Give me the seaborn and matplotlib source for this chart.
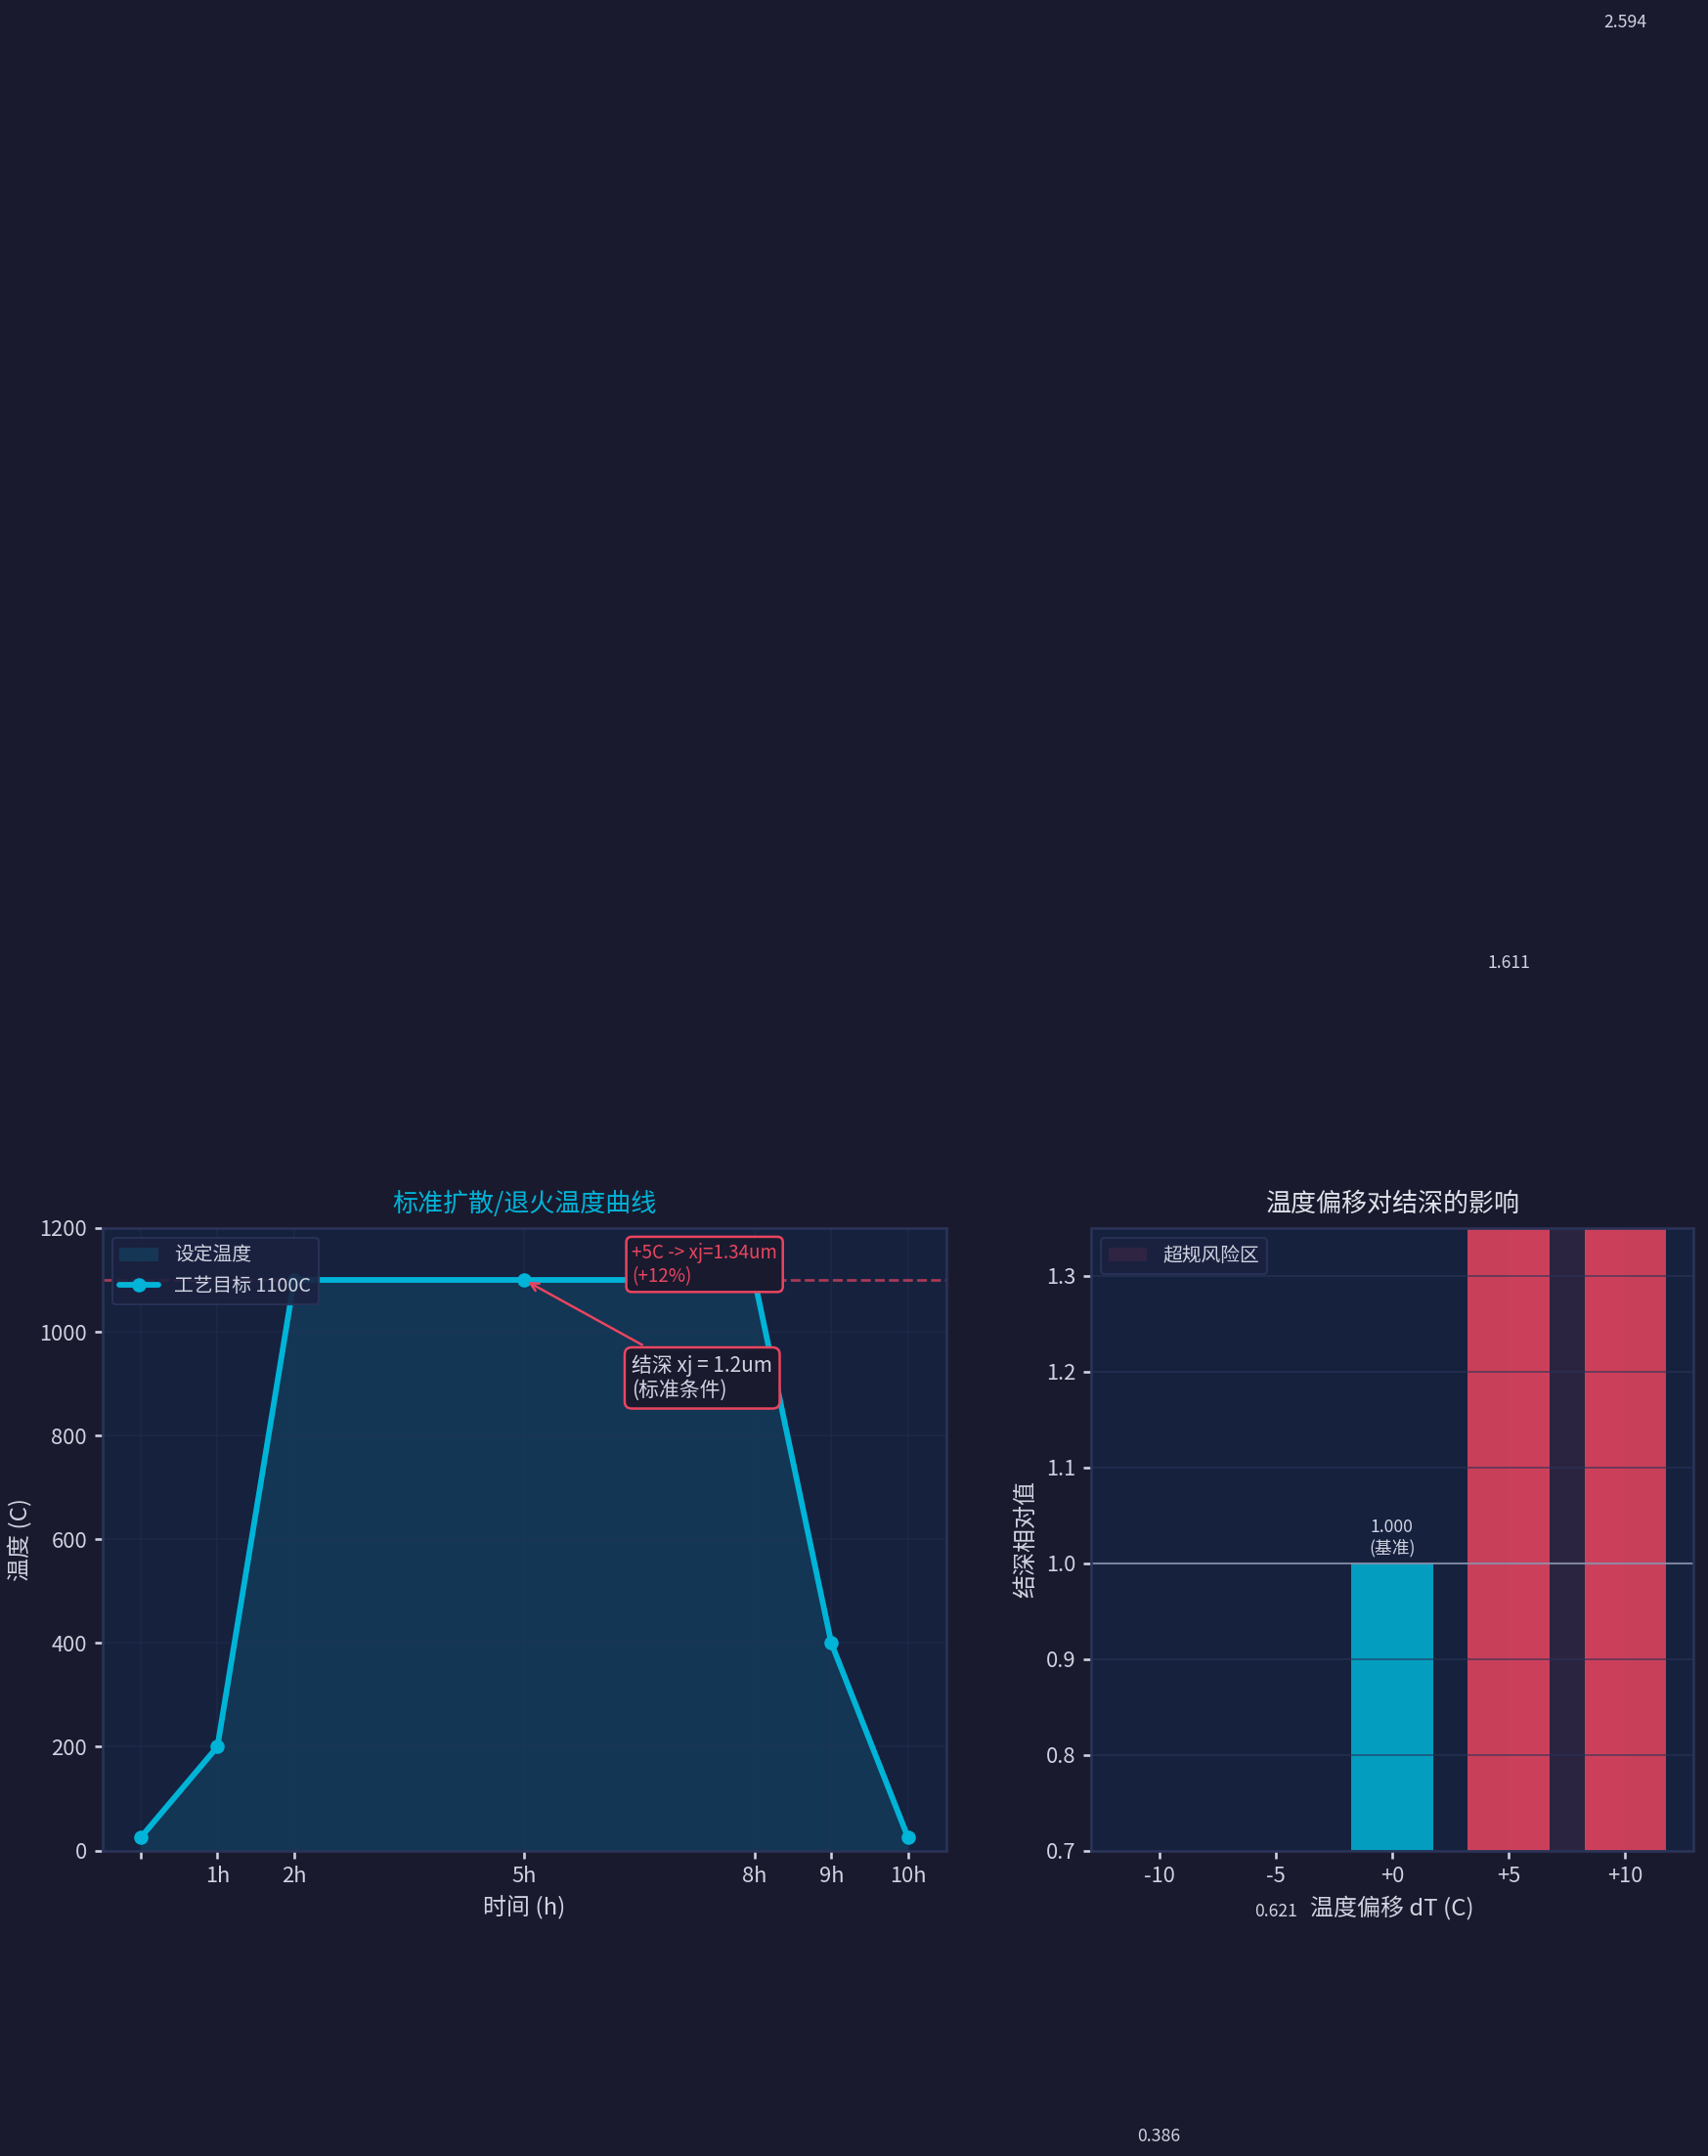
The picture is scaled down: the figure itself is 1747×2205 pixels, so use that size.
import numpy as np
import pandas as pd
import matplotlib
matplotlib.use('Agg')
import matplotlib.pyplot as plt
import seaborn as sns

# data - diffusion / anneal profile
hours = [0, 1, 2, 5, 8, 9, 10]
hour_labels = ['', '1h', '2h', '5h', '8h', '9h', '10h']
temps = [25, 200, 1100, 1100, 1100, 400, 25]
target_temp = 1100

# data - junction depth vs temperature offset
dT = [-10, -5, 0, 5, 10]
dT_labels = ['-10', '-5', '+0', '+5', '+10']
xj_rel = [0.386, 0.621, 1.000, 1.611, 2.594]

# colors
BG = '#1a1a2e'
PANEL = '#16213e'
CYAN = '#00b4d8'
RED = '#e94560'
TXT = '#d0d3e0'
EDGE = '#2a3358'
bar_colors = [CYAN, CYAN, CYAN, RED, RED]

sns.set_theme(style='dark', rc={
    'figure.facecolor': BG, 'axes.facecolor': PANEL, 'axes.edgecolor': EDGE,
    'axes.labelcolor': TXT, 'xtick.color': TXT, 'ytick.color': TXT, 'text.color': TXT,
    'grid.color': EDGE, 'axes.grid': False, 'axes.axisbelow': 'line',
    'xtick.bottom': True, 'ytick.left': True,
    'xtick.major.size': 4, 'ytick.major.size': 4,
    'xtick.labelsize': 10.5, 'ytick.labelsize': 10.5,
})
plt.rcParams['font.family'] = ['Noto Sans CJK SC', 'DejaVu Sans']
plt.rcParams['axes.unicode_minus'] = False

fig = plt.figure(figsize=(1747 / 150, 2205 / 150), dpi=150)
ax1 = fig.add_axes([0.0599, 0.1417, 0.4942, 0.2887])
ax2 = fig.add_axes([0.6387, 0.1417, 0.3527, 0.2887])

# ---- left: temperature profile
ax1.grid(True, color=EDGE, alpha=0.35, lw=0.8)
ax1.fill_between(hours, temps, color=CYAN, alpha=0.15, label='设定温度', lw=0)
ax1.axhline(target_temp, color=RED, ls='--', lw=1.3, alpha=0.7, zorder=1.8)
sns.lineplot(x=hours, y=temps, ax=ax1, color=CYAN, lw=2.8, marker='o',
             markersize=7, markeredgewidth=0, label='工艺目标 1100C')
ax1.set_xticks(hours, hour_labels)
ax1.set_xlim(-0.5, 10.5)
ax1.set_ylim(0, 1200)
ax1.set_title('标准扩散/退火温度曲线', color=CYAN, fontsize=12.5, pad=8)
ax1.set_xlabel('时间 (h)', fontsize=11.5)
ax1.set_ylabel('温度 (C)', fontsize=11.5)

ax1.annotate('结深 xj = 1.2um\n(标准条件)', xy=(5, 1100), xytext=(6.4, 911),
             ha='left', va='center', fontsize=10, color=TXT,
             bbox=dict(boxstyle='round,pad=0.35', fc=BG, ec=RED, lw=1.2),
             arrowprops=dict(arrowstyle='->', color=RED, lw=1.2))
ax1.text(6.4, 1130, '+5C -> xj=1.34um\n(+12%)', color=RED, fontsize=9,
         ha='left', va='center',
         bbox=dict(boxstyle='round,pad=0.3', fc=BG, ec=RED, lw=1.2))
ax1.legend(loc='upper left', fontsize=9.5, facecolor='#1b2240', edgecolor=EDGE,
           framealpha=0.9, labelcolor=TXT)

# ---- right: junction depth sensitivity
ax2.axvspan(5, 10, color=RED, alpha=0.1, lw=0, label='超规风险区')
sns.barplot(x=dT, y=xj_rel, hue=dT_labels, palette=bar_colors, native_scale=True,
            width=0.7, ax=ax2, alpha=0.85, legend=False, errorbar=None, saturation=1,
            edgecolor='none', linewidth=0)
ax2.grid(axis='y', color=EDGE, alpha=0.6, lw=0.9)
ax2.set_axisbelow('line')
ax2.axhline(1.0, color='#a0a8c0', lw=1, alpha=0.7)
for x, v in zip(dT, xj_rel):
    lab = f'{v:.3f}' + ('\n(基准)' if x == 0 else '')
    ax2.text(x, v + 0.006, lab, ha='center', va='bottom', fontsize=8.5, color=TXT)
ax2.set_xticks(dT, dT_labels)
ax2.set_xlim(-12.925, 12.925)
ax2.set_ylim(0.7, 1.35)
ax2.set_title('温度偏移对结深的影响', color='#e0e2ea', fontsize=12.5, pad=8)
ax2.set_xlabel('温度偏移 dT (C)', fontsize=11.5)
ax2.set_ylabel('结深相对值', fontsize=11.5)
ax2.legend(loc='upper left', fontsize=9.5, facecolor='#1b2240', edgecolor=EDGE,
           framealpha=0.9, labelcolor=TXT)

for ax in (ax1, ax2):
    for s in ax.spines.values():
        s.set_color(EDGE)
        s.set_visible(True)

fig.savefig('out.png', dpi=150, facecolor=BG)
